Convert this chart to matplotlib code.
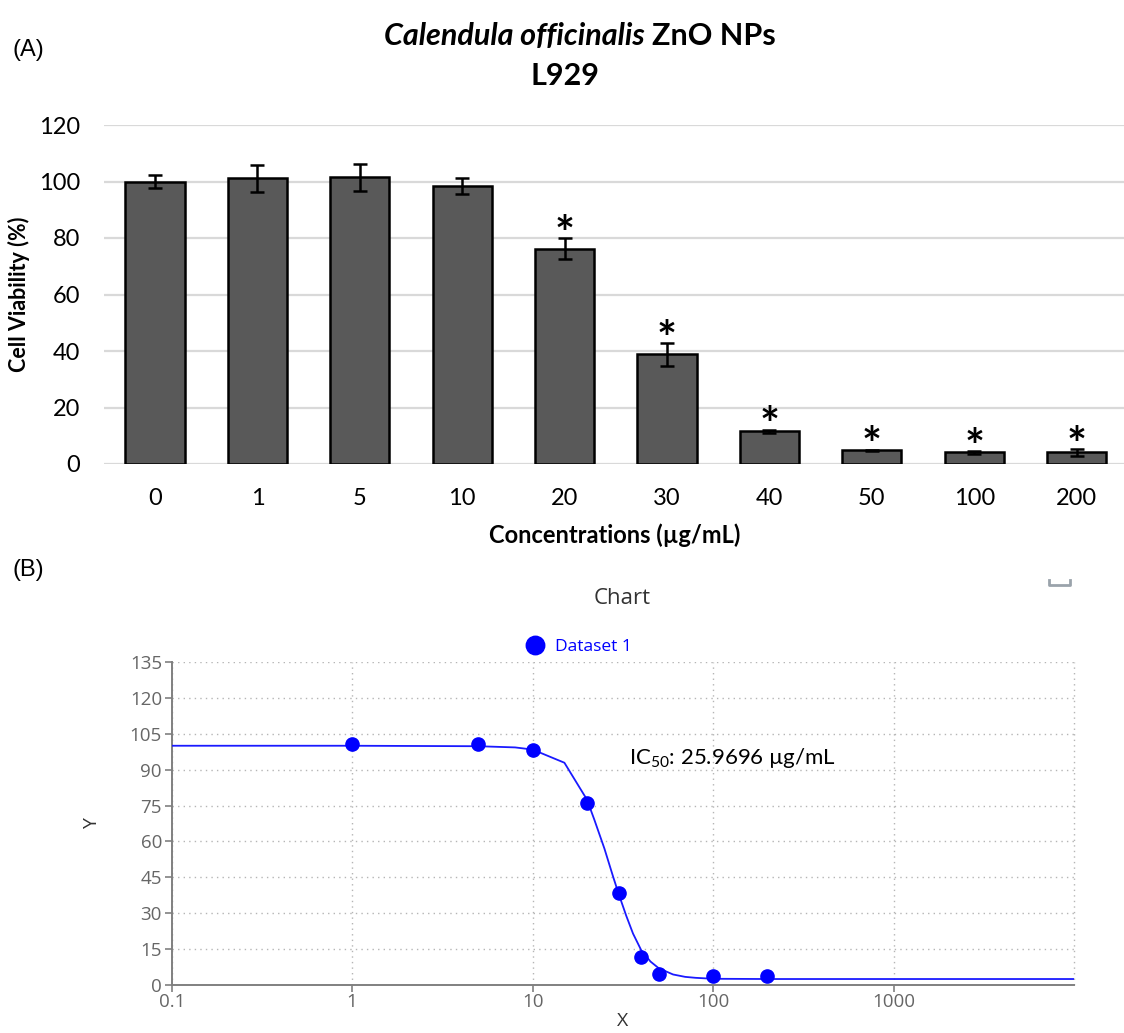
import matplotlib
matplotlib.use("Agg")
import matplotlib.pyplot as plt
from matplotlib.lines import Line2D

# --- data (A): viability bars ---
concentrations = ["0", "1", "5", "10", "20", "30", "40", "50", "100", "200"]
viability = [100.0, 101.1, 101.5, 98.3, 76.2, 38.8, 11.6, 4.8, 4.1, 4.1]
viability_sd = [2.2, 4.7, 4.8, 2.9, 3.7, 4.1, 0.6, 0.3, 0.5, 1.2]
significant = [False, False, False, False, True, True, True, True, True, True]

# --- data (B): dose-response points and fitted curve ---
dose_x = [1, 5, 10, 20, 30, 40, 50, 100, 200]
dose_y = [100.8, 100.8, 98.2, 75.9, 38.4, 11.6, 4.6, 3.9, 3.9]
fit_x = [0.1, 1, 5, 8, 10, 15, 20, 22, 25, 28, 30, 33, 36, 40, 45, 50, 60, 70, 80, 100, 200, 10000]
fit_y = [100.0, 100.0, 99.8, 99.3, 98.4, 92.9, 77.5, 69.0, 57.0, 45.0, 38.0, 29.0, 21.5, 14.5, 9.8, 7.0, 4.4, 3.4, 3.0, 2.6, 2.5, 2.5]
ic50_label = "IC$_{50}$: 25.9696 µg/mL"

plt.rcParams["mathtext.fontset"] = "custom"
plt.rcParams["mathtext.rm"] = "Lato"
plt.rcParams["mathtext.it"] = "Lato:italic"

LATO = ["Lato", "DejaVu Sans"]
OPEN = ["Open Sans", "DejaVu Sans"]

W, H = 1124, 1033
fig = plt.figure(figsize=(W / 100, H / 100), dpi=100)

# ---------------- panel A ----------------
ax = fig.add_axes([103.8 / W, 1 - 464 / H, 1024 / W, 339 / H])
xs = range(len(concentrations))
ax.bar(xs, viability, width=0.58, color="#595959", edgecolor="black", linewidth=1.8,
       yerr=viability_sd, capsize=5,
       error_kw=dict(elinewidth=1.8, capthick=1.8, ecolor="black"), zorder=3)
for i, (v, e, s) in enumerate(zip(viability, viability_sd, significant)):
    if s:
        ax.text(i, v + e - 7.0, "*", ha="center", va="bottom", fontsize=34,
                fontweight="bold", family=LATO)
ax.set_xlim(-0.5, len(concentrations) - 0.5)
ax.set_ylim(0, 120)
ax.set_yticks(range(0, 121, 20))
ax.set_xticks(list(xs))
ax.set_xticklabels(concentrations)
ax.grid(axis="y", color="#d9d9d9", linewidth=1.6, zorder=0)
ax.set_axisbelow(True)
for sp in ax.spines.values():
    sp.set_visible(False)
ax.tick_params(length=0, labelsize=17)
ax.tick_params(axis="y", pad=17)
ax.tick_params(axis="x", pad=17)
for lab in ax.get_xticklabels() + ax.get_yticklabels():
    lab.set_family(LATO)
ax.set_ylabel("Cell Viability (%)", fontsize=15.5, fontweight="bold", family=LATO)
ax.yaxis.set_label_coords(-0.072, 0.5)
ax.set_xlabel("Concentrations (µg/mL)", fontsize=17, fontweight="bold", family=LATO)
ax.xaxis.set_label_coords(0.499, -0.175)

fig.text(645 / W, 1 - 36 / H, "Calendula officinalis", ha="right", va="center",
         fontsize=22, fontweight="bold", style="italic", family=LATO)
fig.text(652 / W, 1 - 36 / H, "ZnO NPs", ha="left", va="center",
         fontsize=22, fontweight="bold", family=LATO)
fig.text(565 / W, 1 - 76 / H, "L929", ha="center", va="center",
         fontsize=22, fontweight="bold", family=LATO)
fig.text(12 / W, 1 - 50 / H, "(A)", ha="left", va="center", fontsize=17,
         family=["Liberation Sans", "DejaVu Sans"])
fig.text(12 / W, 1 - 570 / H, "(B)", ha="left", va="center", fontsize=17,
         family=["Liberation Sans", "DejaVu Sans"])

# ---------------- panel B ----------------
bx = fig.add_axes([171.7 / W, 48 / H, 902.3 / W, 323 / H])
bx.plot(fit_x, fit_y, color="#1a1aff", linewidth=1.3, zorder=3)
bx.plot(dose_x, dose_y, "o", color="#0000ff", markersize=9.5, zorder=4, label="Dataset 1")
bx.set_xscale("log")
bx.set_xlim(0.1, 10000)
bx.set_ylim(0, 135)
bx.set_yticks(range(0, 136, 15))
bx.set_xticks([0.1, 1, 10, 100, 1000])
bx.set_xticklabels(["0.1", "1", "10", "100", "1000"])
bx.minorticks_off()
bx.grid(True, color="#b5b5b5", linestyle=(0, (1, 3)), linewidth=1.0)
bx.axvline(10000, color="#b5b5b5", linestyle=(0, (1, 3)), linewidth=1.0, clip_on=False)
for side in ["top", "right"]:
    bx.spines[side].set_visible(False)
for side in ["left", "bottom"]:
    bx.spines[side].set_color("#808080")
    bx.spines[side].set_linewidth(1.4)
bx.tick_params(colors="#808080", labelcolor="#666666", labelsize=13.5, length=5, width=1.2)
bx.tick_params(axis="y", pad=2)
bx.tick_params(axis="x", pad=1)
for lab in bx.get_xticklabels() + bx.get_yticklabels():
    lab.set_family(OPEN)
bx.set_ylabel("Y", fontsize=14, color="#333333", family=OPEN)
bx.yaxis.set_label_coords(-0.078, 0.5)
bx.set_xlabel("X", fontsize=14, color="#333333", family=OPEN)
bx.xaxis.set_label_coords(0.5, -0.085)
bx.text(34, 95, ic50_label, ha="left", va="center", fontsize=16, family=LATO)
leg = bx.legend(loc="lower center", bbox_to_anchor=(0.447, 0.99), frameon=False,
                markerscale=1.4, handletextpad=0.15, borderaxespad=0.2,
                prop={"family": OPEN, "size": 12.5})
for t in leg.get_texts():
    t.set_color("#0000ff")

fig.text(622 / W, 1 - 598 / H, "Chart", ha="center", va="center", fontsize=16,
         color="#333333", family=OPEN)
# small toolbar glyph at top right of panel B
fig.add_artist(Line2D([1049 / W, 1049 / W, 1070 / W, 1070 / W],
                      [1 - 580 / H, 1 - 585 / H, 1 - 585 / H, 1 - 580 / H],
                      color="#9aa3ab", linewidth=2))

fig.savefig("out.png", dpi=100)
